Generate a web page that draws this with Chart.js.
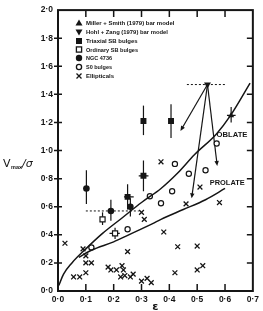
<!DOCTYPE html>
<html>
<head>
<meta charset="utf-8">
<script src="https://cdn.jsdelivr.net/npm/chart.js@4.4.0/dist/chart.umd.min.js"></script>
<style>
  html, body { margin: 0; padding: 0; background: #fff; }
</style>
</head>
<body>
<canvas id="chart" width="263" height="311"></canvas>
<script>
// values: [epsilon, Vmax/sigma]
const ellipticals = [
  [0.025, 0.34], [0.09, 0.30], [0.10, 0.25], [0.10, 0.20], [0.12, 0.20],
  [0.056, 0.10], [0.078, 0.10], [0.10, 0.13], [0.25, 0.28], [0.18, 0.17],
  [0.19, 0.15], [0.21, 0.15], [0.23, 0.18], [0.235, 0.15], [0.225, 0.10],
  [0.24, 0.11], [0.26, 0.10], [0.27, 0.12], [0.30, 0.07], [0.32, 0.09],
  [0.335, 0.06], [0.30, 0.56], [0.31, 0.51], [0.37, 0.92], [0.38, 0.42],
  [0.43, 0.315], [0.46, 0.62], [0.50, 0.32], [0.51, 0.74], [0.42, 0.13],
  [0.50, 0.15], [0.52, 0.18], [0.58, 0.63]
];
const s0Bulges = [
  [0.12, 0.31], [0.25, 0.44], [0.33, 0.675], [0.37, 0.625], [0.41, 0.71],
  [0.42, 0.905], [0.47, 0.835], [0.53, 0.86], [0.57, 1.05]
];
const ordinarySB = [[0.16, 0.51], [0.205, 0.41]];
const triaxialSB = [[0.307, 1.21], [0.406, 1.21], [0.307, 0.82], [0.25, 0.67]];
const ngc4736 = [[0.102, 0.73], [0.19, 0.57], [0.26, 0.60]];
const millerSmith = [[0.622, 1.25]];
const hohlZang = [[0.537, 1.47]];

const oblateCurve = [
  [0.003, 0.04], [0.02, 0.12], [0.05, 0.20], [0.10, 0.30], [0.16, 0.41],
  [0.23, 0.52], [0.30, 0.63], [0.37, 0.73], [0.43, 0.84], [0.49, 0.97],
  [0.57, 1.12], [0.62, 1.25], [0.69, 1.48]
];
const prolateCurve = [
  [0.075, 0.24], [0.12, 0.29], [0.20, 0.35], [0.254, 0.40], [0.34, 0.48],
  [0.37, 0.51], [0.45, 0.58], [0.53, 0.65], [0.60, 0.73]
];

// error bars: [x, y, yLow, yHigh, xLow, xHigh]
const errorBars = [
  [0.307, 1.21, 1.11, 1.32, null, null],
  [0.406, 1.21, 1.09, 1.33, null, null],
  [0.307, 0.82, 0.71, 0.93, 0.29, 0.325],
  [0.25, 0.67, 0.58, 0.76, 0.237, 0.272],
  [0.102, 0.73, 0.62, 0.86, null, null],
  [0.19, 0.57, 0.50, 0.65, null, null],
  [0.26, 0.60, 0.53, 0.66, null, null],
  [0.16, 0.51, 0.47, 0.56, null, null],
  [0.205, 0.41, 0.37, 0.45, 0.185, 0.222],
  [0.622, 1.25, 1.20, 1.31, 0.607, 0.638]
];
// dashed epsilon ranges: [xFrom, xTo, y]
const dashedRanges = [[0.463, 0.60, 1.47], [0.10, 0.29, 0.57]];
// arrows from the Hohl & Zang model to its projections
const arrowTargets = [[0.44, 1.14], [0.48, 0.66], [0.572, 0.89]];

const xTicks = [0, 0.1, 0.2, 0.3, 0.4, 0.5, 0.6, 0.7];
const yTicks = [0, 0.2, 0.4, 0.6, 0.8, 1.0, 1.2, 1.4, 1.6, 1.8, 2.0];

const legendItems = [
  { type: 'triUp', text: 'Miller + Smith (1979) bar model' },
  { type: 'triDown', text: 'Hohl + Zang (1979) bar model' },
  { type: 'square', text: 'Triaxial SB bulges' },
  { type: 'openSquare', text: 'Ordinary SB bulges' },
  { type: 'dot', text: 'NGC 4736' },
  { type: 'ring', text: 'S0 bulges' },
  { type: 'x', text: 'Ellipticals' }
];

const ink = '#151515';
const fmt = v => v.toFixed(1).replace('.', '\u00b7');
const pts = arr => arr.map(([x, y]) => ({ x, y }));

function drawMarker(ctx, type, x, y) {
  ctx.save();
  ctx.fillStyle = ink;
  ctx.strokeStyle = ink;
  ctx.lineWidth = 1.3;
  ctx.beginPath();
  switch (type) {
    case 'triUp':
      ctx.moveTo(x, y - 3.5); ctx.lineTo(x + 3.5, y + 2.5); ctx.lineTo(x - 3.5, y + 2.5);
      ctx.closePath(); ctx.fill(); break;
    case 'triDown':
      ctx.moveTo(x, y + 3.5); ctx.lineTo(x + 3.5, y - 2.5); ctx.lineTo(x - 3.5, y - 2.5);
      ctx.closePath(); ctx.fill(); break;
    case 'square':
      ctx.fillRect(x - 3, y - 3, 6, 6); break;
    case 'openSquare':
      ctx.strokeRect(x - 2.6, y - 2.6, 5.2, 5.2); break;
    case 'dot':
      ctx.arc(x, y, 3.2, 0, Math.PI * 2); ctx.fill(); break;
    case 'ring':
      ctx.arc(x, y, 2.6, 0, Math.PI * 2); ctx.stroke(); break;
    case 'x':
      ctx.moveTo(x - 2.5, y - 2.5); ctx.lineTo(x + 2.5, y + 2.5);
      ctx.moveTo(x + 2.5, y - 2.5); ctx.lineTo(x - 2.5, y + 2.5);
      ctx.stroke(); break;
  }
  ctx.restore();
}

function drawArrow(ctx, sx, sy, tx, ty) {
  const ang = Math.atan2(ty - sy, tx - sx);
  const len = 5, half = 2.2;
  ctx.beginPath();
  ctx.moveTo(sx, sy);
  ctx.lineTo(tx - Math.cos(ang) * len * 0.8, ty - Math.sin(ang) * len * 0.8);
  ctx.stroke();
  ctx.beginPath();
  ctx.moveTo(tx, ty);
  ctx.lineTo(tx - Math.cos(ang) * len - Math.sin(ang) * half, ty - Math.sin(ang) * len + Math.cos(ang) * half);
  ctx.lineTo(tx - Math.cos(ang) * len + Math.sin(ang) * half, ty - Math.sin(ang) * len - Math.cos(ang) * half);
  ctx.closePath();
  ctx.fill();
}

const decorations = {
  id: 'decorations',
  beforeDatasetsDraw(chart) {
    const { ctx, scales: { x, y } } = chart;
    ctx.save();
    ctx.strokeStyle = ink;
    ctx.fillStyle = ink;
    ctx.lineWidth = 1.2;

    // error bars
    errorBars.forEach(([px, py, yLo, yHi, xLo, xHi]) => {
      ctx.beginPath();
      ctx.moveTo(x.getPixelForValue(px), y.getPixelForValue(yLo));
      ctx.lineTo(x.getPixelForValue(px), y.getPixelForValue(yHi));
      if (xLo !== null) {
        ctx.moveTo(x.getPixelForValue(xLo), y.getPixelForValue(py));
        ctx.lineTo(x.getPixelForValue(xHi), y.getPixelForValue(py));
      }
      ctx.stroke();
    });

    // dashed ellipticity ranges
    ctx.setLineDash([2, 2]);
    ctx.lineWidth = 1;
    dashedRanges.forEach(([x0, x1, yy]) => {
      ctx.beginPath();
      ctx.moveTo(x.getPixelForValue(x0), y.getPixelForValue(yy));
      ctx.lineTo(x.getPixelForValue(x1), y.getPixelForValue(yy));
      ctx.stroke();
    });
    ctx.setLineDash([]);

    // arrows from the bar model
    ctx.lineWidth = 1.2;
    const sx = x.getPixelForValue(hohlZang[0][0]);
    const sy = y.getPixelForValue(hohlZang[0][1]);
    arrowTargets.forEach(([tx, ty]) => {
      drawArrow(ctx, sx, sy, x.getPixelForValue(tx), y.getPixelForValue(ty));
    });
    ctx.restore();
  },
  afterDraw(chart) {
    const { ctx, chartArea: a, scales: { x, y } } = chart;
    ctx.save();
    ctx.strokeStyle = ink;
    ctx.fillStyle = ink;

    // frame
    ctx.lineWidth = 2;
    ctx.strokeRect(a.left, a.top, a.right - a.left, a.bottom - a.top);

    // tick marks
    ctx.lineWidth = 1.5;
    ctx.beginPath();
    xTicks.slice(1, -1).forEach(v => {
      const px = x.getPixelForValue(v);
      ctx.moveTo(px, a.bottom); ctx.lineTo(px, a.bottom - 7);
      ctx.moveTo(px, a.top); ctx.lineTo(px, a.top + 7);
    });
    yTicks.slice(1, -1).forEach(v => {
      const py = y.getPixelForValue(v);
      ctx.moveTo(a.left - 4, py); ctx.lineTo(a.left + 4, py);
      ctx.moveTo(a.right, py); ctx.lineTo(a.right - 6, py);
    });
    ctx.stroke();

    // legend
    ctx.font = 'bold 6px "Liberation Sans", Arial, sans-serif';
    ctx.textBaseline = 'middle';
    ctx.textAlign = 'left';
    const legendY = [23, 32, 41, 49.5, 58, 67, 76];
    const maxW = [90, 82, 52, 52, 26, 26, 30];
    legendItems.forEach((item, i) => {
      drawMarker(ctx, item.type, 79, legendY[i]);
      ctx.fillText(item.text, 86, legendY[i] + 0.5, maxW[i]);
    });

    // curve labels
    ctx.font = 'bold 8px "Liberation Sans", Arial, sans-serif';
    ctx.textAlign = 'center';
    ctx.fillText('OBLATE', x.getPixelForValue(0.625), y.getPixelForValue(1.115), 31);
    ctx.fillText('PROLATE', x.getPixelForValue(0.608), y.getPixelForValue(0.77), 35);

    // axis titles
    ctx.textAlign = 'left';
    ctx.textBaseline = 'alphabetic';
    ctx.font = '11px "DejaVu Sans", sans-serif';
    ctx.fillText('V', 3, 167);
    ctx.font = 'bold 5.5px "Liberation Sans", sans-serif';
    ctx.fillText('max', 11, 169);
    ctx.font = 'italic 11px "DejaVu Sans", sans-serif';
    ctx.fillText('/\u03c3', 22, 167);

    ctx.font = 'bold 11px "DejaVu Sans", sans-serif';
    ctx.textAlign = 'center';
    ctx.fillText('\u03b5', x.getPixelForValue(0.35), 310);
    ctx.restore();
  }
};

const pointBase = { showLine: false, borderColor: ink, backgroundColor: ink };

new Chart(document.getElementById('chart'), {
  type: 'scatter',
  data: {
    datasets: [
      {
        label: 'Oblate', data: pts(oblateCurve), showLine: true, pointRadius: 0,
        borderColor: ink, borderWidth: 1.5, cubicInterpolationMode: 'monotone', fill: false
      },
      {
        label: 'Prolate', data: pts(prolateCurve), showLine: true, pointRadius: 0,
        borderColor: ink, borderWidth: 1.5, cubicInterpolationMode: 'monotone', fill: false
      },
      { ...pointBase, label: 'Ellipticals', data: pts(ellipticals), pointStyle: 'crossRot', pointRadius: 3.4, borderWidth: 1.3 },
      { ...pointBase, label: 'S0 bulges', data: pts(s0Bulges), pointStyle: 'circle', pointRadius: 2.6, borderWidth: 1.2, backgroundColor: '#fff' },
      { ...pointBase, label: 'Ordinary SB bulges', data: pts(ordinarySB), pointStyle: 'rect', pointRadius: 3.6, borderWidth: 1.2, backgroundColor: '#fff' },
      { ...pointBase, label: 'Triaxial SB bulges', data: pts(triaxialSB), pointStyle: 'rect', pointRadius: 4.2, borderWidth: 0 },
      { ...pointBase, label: 'NGC 4736', data: pts(ngc4736), pointStyle: 'circle', pointRadius: 3.3, borderWidth: 0 },
      { ...pointBase, label: 'Miller + Smith', data: pts(millerSmith), pointStyle: 'triangle', pointRadius: 3.5, borderWidth: 0 },
      { ...pointBase, label: 'Hohl + Zang', data: pts(hohlZang), pointStyle: 'triangle', rotation: 180, pointRadius: 4, borderWidth: 0 }
    ]
  },
  options: {
    responsive: false,
    animation: false,
    devicePixelRatio: 1,
    layout: { padding: { left: 0, right: 7, top: 6, bottom: 0 } },
    plugins: { legend: { display: false }, tooltip: { enabled: false } },
    scales: {
      x: {
        type: 'linear', min: 0, max: 0.7,
        afterBuildTicks: s => { s.ticks = xTicks.map(v => ({ value: v })); },
        ticks: {
          callback: v => fmt(v), color: ink, padding: 4, maxRotation: 0,
          font: { family: '"Liberation Sans", Arial, sans-serif', size: 8.5, weight: 'bold' }
        },
        grid: { display: false, drawTicks: false },
        border: { display: false },
        afterFit: s => { s.height = 20; }
      },
      y: {
        type: 'linear', min: 0, max: 2.0,
        afterBuildTicks: s => { s.ticks = yTicks.map(v => ({ value: v })); },
        ticks: {
          callback: v => fmt(v), color: ink, padding: 5,
          font: { family: '"Liberation Sans", Arial, sans-serif', size: 8.5, weight: 'bold' }
        },
        grid: { display: false, drawTicks: false },
        border: { display: false },
        afterFit: s => { s.width = 58; }
      }
    }
  },
  plugins: [decorations]
});
</script>
</body>
</html>
